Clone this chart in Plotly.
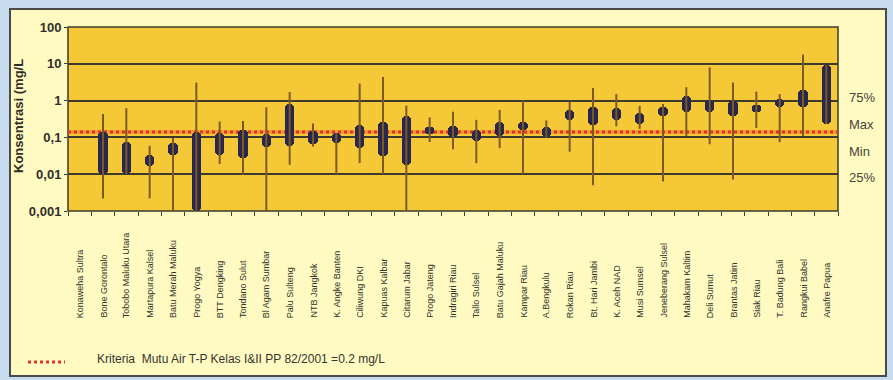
import plotly.graph_objects as go

categories = ["Konaweha Sultra", "Bone Gorontalo", "Tobobo Maluku Utara", "Martapura Kalsel",
              "Batu Merah Maluku", "Progo Yogya", "BTT Dengking", "Tondano Sulut",
              "Bl Agam Sumbar", "Palu Sulteng", "NTB Jangkok", "K. Angke Banten",
              "Ciliwung DKI", "Kapuas Kalbar", "Citarum Jabar", "Progo Jateng",
              "Indragiri Riau", "Tallo Sulsel", "Batu Gajah Maluku", "Kampar Riau",
              "A.Bengkulu", "Rokan Riau", "Bt. Hari Jambi", "K. Aceh NAD",
              "Musi Sumsel", "Jeneberang Sulsel", "Mahakam Kaltim", "Deli Sumut",
              "Brantas Jatim", "Siak Riau", "T. Badung Bali", "Rangkui Babel", "Anafre Papua"]

v_min = [None, 0.0022, 0.01, 0.0022, 0.001, 0.001, 0.019, 0.0095, 0.001, 0.018, 0.057, 0.01,
         0.02, 0.01, 0.001, 0.075, 0.048, 0.02, 0.051, 0.01, 0.1, 0.041, 0.005, 0.2,
         0.17, 0.0063, 0.11, 0.065, 0.0072, 0.18, 0.074, 0.11, 0.23]
q1 = [None, 0.01, 0.01, 0.017, 0.034, 0.001, 0.034, 0.028, 0.055, 0.057, 0.066, 0.07,
      0.053, 0.031, 0.018, 0.12, 0.1, 0.081, 0.11, 0.16, 0.1, 0.29, 0.22, 0.3,
      0.23, 0.39, 0.48, 0.48, 0.37, 0.5, 0.69, 0.66, 0.23]
q3 = [None, 0.14, 0.073, 0.034, 0.072, 0.14, 0.13, 0.16, 0.12, 0.8, 0.15, 0.13,
      0.22, 0.27, 0.37, 0.19, 0.21, 0.16, 0.27, 0.27, 0.19, 0.56, 0.69, 0.62,
      0.45, 0.66, 1.3, 1.04, 1.0, 0.76, 1.1, 2.0, 9.2]
v_max = [None, 0.43, 0.62, 0.059, 0.096, 3.1, 0.27, 0.28, 0.66, 1.7, 0.24, 0.13,
         2.9, 4.4, 0.73, 0.35, 0.5, 0.3, 0.56, 1.0, 0.29, 0.94, 2.2, 1.5,
         0.72, 0.81, 2.3, 8.0, 3.1, 1.75, 1.5, 18.0, 9.2]

criteria = 0.14
y_tickvals = [0.001, 0.01, 0.1, 1, 10, 100]
y_ticktext = ["0,001", "0,01", "0,1", "1", "10", "100"]
side_labels = ["75%", "Max", "Min", "25%"]
side_label_y = [97, 125, 151, 177]  # pixel rows

W, H = 893, 380
L, R, T, B = 68, 55, 27, 169
pw, ph = W - L - R, H - T - B


def px2paper_x(px):
    return (px - L) / pw


def px2paper_y(py):
    return (H - B - py) / ph


# whiskers
wx, wy = [], []
for c, lo, hi in zip(categories, v_min, v_max):
    if lo is None:
        continue
    wx += [c, c, None]
    wy += [lo, hi, None]

bar_x = [c for c, a in zip(categories, q1) if a is not None]
bar_base = [a for a in q1 if a is not None]
bar_len = [b - a for a, b in zip(q1, q3) if a is not None]

fig = go.Figure()
fig.add_trace(go.Scatter(x=wx, y=wy, mode="lines",
                         line=dict(color="#7a5a22", width=2), hoverinfo="skip",
                         showlegend=False))
fig.add_trace(go.Bar(x=bar_x, y=bar_len, base=bar_base, width=0.4,
                     marker=dict(color="#28284e", cornerradius=4, line=dict(width=0)),
                     showlegend=False))

shapes = [
    # outer frame
    dict(type="rect", xref="paper", yref="paper", layer="below",
         x0=px2paper_x(10), x1=px2paper_x(886), y0=px2paper_y(376), y1=px2paper_y(9),
         fillcolor="#fffac2", line=dict(color="#4a4a48", width=2)),
    # plot area
    dict(type="rect", xref="paper", yref="paper", layer="below",
         x0=0, x1=1, y0=0, y1=1,
         fillcolor="#f5c838", line=dict(color="#3c3a2c", width=1.5)),
    # criteria line (orange halo + red dots)
    dict(type="line", xref="x domain", yref="y", layer="below",
         x0=0, x1=1, y0=criteria, y1=criteria,
         line=dict(color="rgba(240,120,40,0.55)", width=4)),
    dict(type="line", xref="x domain", yref="y", layer="below",
         x0=0, x1=1, y0=criteria, y1=criteria,
         line=dict(color="#e2352a", width=3, dash="dot")),
    # legend sample
    dict(type="line", xref="paper", yref="paper",
         x0=px2paper_x(28), x1=px2paper_x(65), y0=px2paper_y(362), y1=px2paper_y(362),
         line=dict(color="#e2352a", width=3, dash="dot")),
]

annotations = []
for c in categories:
    annotations.append(dict(x=c, xref="x", y=px2paper_y(320), yref="paper",
                            text=c, textangle=-90, showarrow=False,
                            xanchor="center", yanchor="bottom",
                            font=dict(family="Liberation Sans", size=9, color="#33332b")))
for lab, py in zip(side_labels, side_label_y):
    annotations.append(dict(x=px2paper_x(847), xref="paper", y=px2paper_y(py), yref="paper",
                            text=lab, showarrow=False, xanchor="left", yanchor="middle",
                            font=dict(family="Liberation Sans", size=13, color="#45453a")))
annotations.append(dict(x=px2paper_x(18), xref="paper", y=px2paper_y(116), yref="paper",
                        text="Konsentrasi (mg/L", textangle=-90, showarrow=False,
                        xanchor="center", yanchor="middle",
                        font=dict(family="Liberation Sans", size=13, color="#2f2f2a",
                                  weight="bold")))
annotations.append(dict(x=px2paper_x(95), xref="paper", y=px2paper_y(359), yref="paper",
                        text="Kriteria&nbsp; Mutu Air T-P Kelas I&amp;II PP 82/2001 =0.2 mg/L",
                        showarrow=False, xanchor="left", yanchor="middle",
                        font=dict(family="Liberation Sans", size=12, color="#35352f")))

fig.update_layout(
    width=W, height=H,
    margin=dict(l=L, r=R, t=T, b=B, pad=0),
    paper_bgcolor="#c8dcef",
    plot_bgcolor="rgba(0,0,0,0)",
    shapes=shapes,
    annotations=annotations,
    bargap=0,
    xaxis=dict(type="category", categoryorder="array", categoryarray=categories,
               range=[-0.5, len(categories) - 0.5], showgrid=False, zeroline=False,
               showline=False, ticks="outside", tickson="boundaries", ticklen=4,
               tickcolor="#3c3a2c", showticklabels=False, fixedrange=True),
    yaxis=dict(type="log", range=[-3, 2], tickvals=y_tickvals, ticktext=y_ticktext,
               showgrid=True, gridcolor="#3c3a2c", gridwidth=1.5, zeroline=False,
               showline=False, ticks="outside", ticklen=3, tickcolor="#3c3a2c",
               tickfont=dict(family="Liberation Sans", size=13, color="#2f2f2a",
                             weight="bold")),
    font=dict(family="Liberation Sans"),
)

fig.write_html("out.html")
